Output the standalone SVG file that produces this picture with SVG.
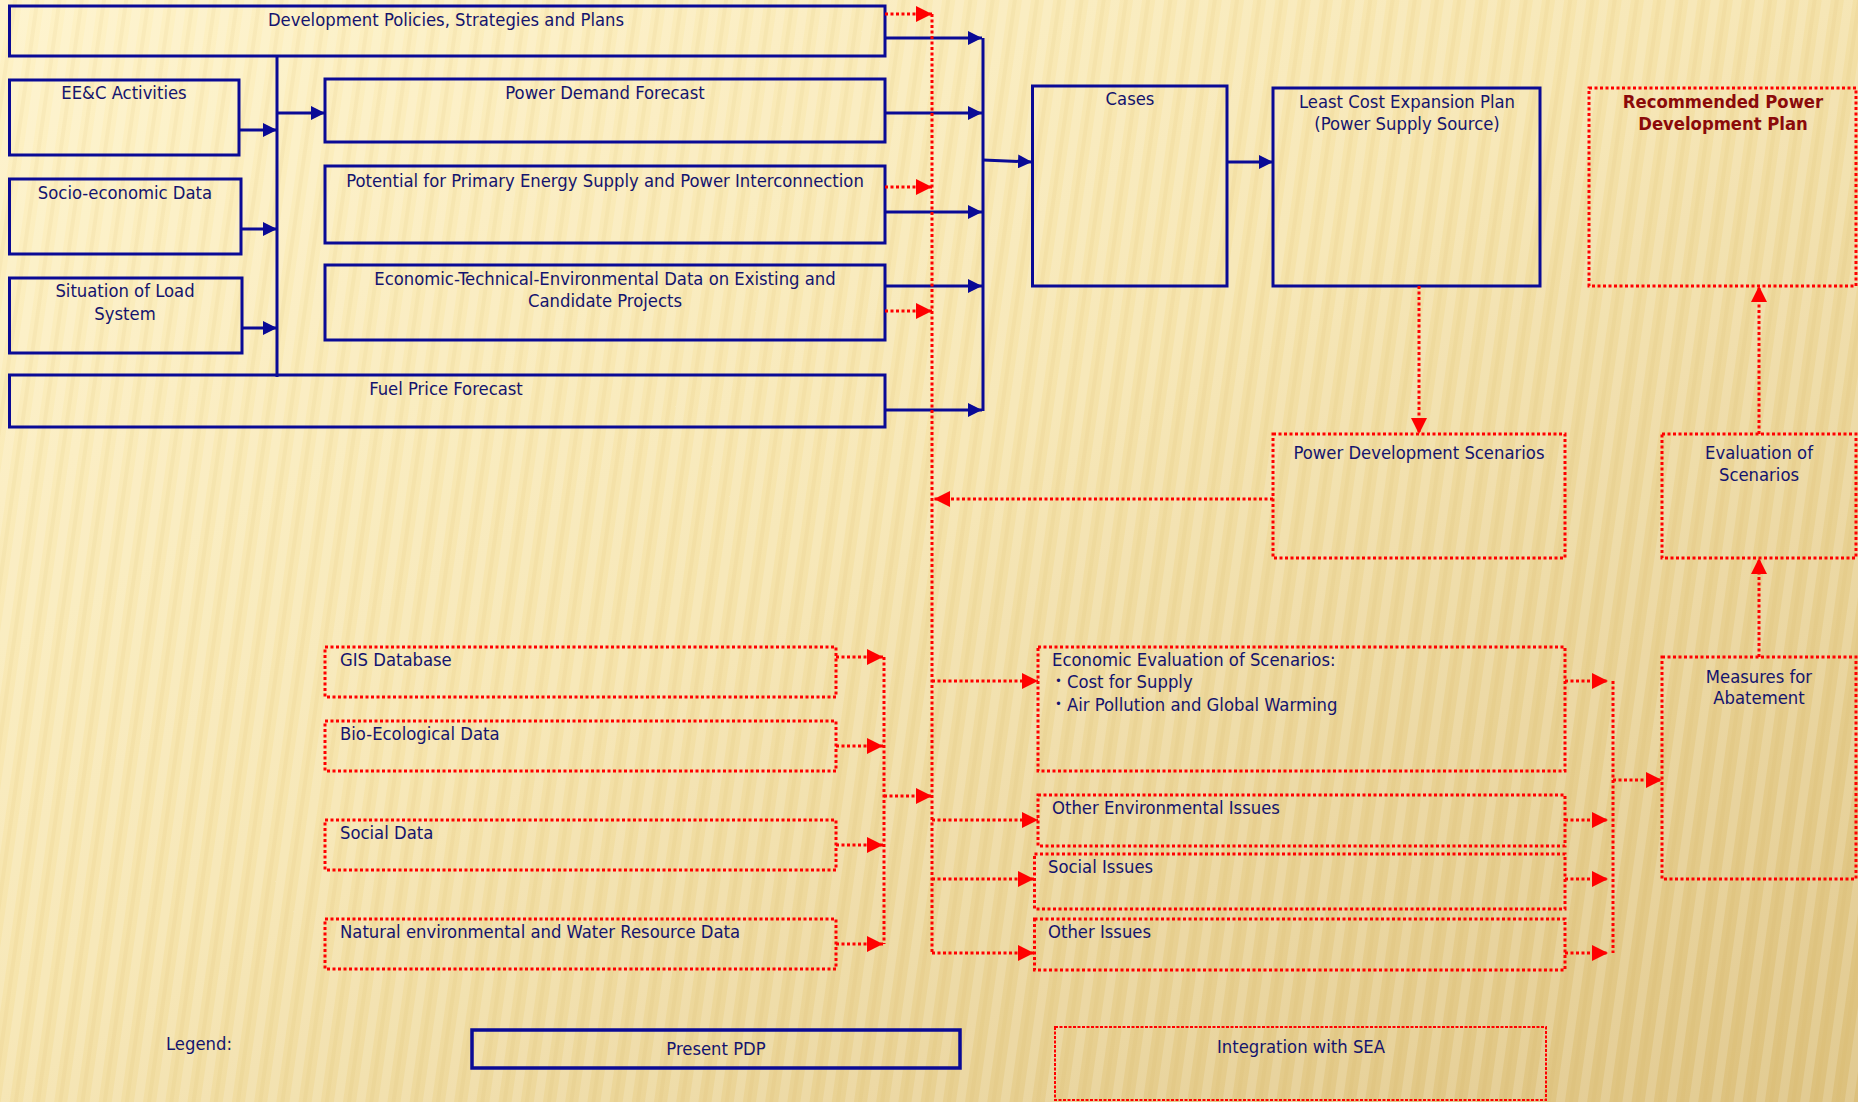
<svg xmlns="http://www.w3.org/2000/svg" width="1858" height="1102" viewBox="0 0 1858 1102">
<defs>
<linearGradient id="bg" x1="0" y1="0" x2="1" y2="1">
<stop offset="0" stop-color="#FEF2C6"/>
<stop offset="0.45" stop-color="#F6E4AC"/>
<stop offset="1" stop-color="#DCC07C"/>
</linearGradient>
<pattern id="stripes" width="22" height="22" patternUnits="userSpaceOnUse" patternTransform="rotate(8)">
<rect x="0" y="0" width="9" height="22" fill="#ffffff" opacity="0.16"/>
<rect x="13" y="0" width="4" height="22" fill="#c9a650" opacity="0.08"/>
</pattern>
<marker id="ab" viewBox="0 0 14 14" refX="14" refY="7" markerWidth="14" markerHeight="14" markerUnits="userSpaceOnUse" orient="auto">
<path d="M0,0 L14,7 L0,14 z" fill="#0A0A96"/>
</marker>
<marker id="ar" viewBox="0 0 16 16" refX="16" refY="8" markerWidth="16" markerHeight="16" markerUnits="userSpaceOnUse" orient="auto">
<path d="M0,0 L16,8 L0,16 z" fill="#FF0000"/>
</marker>
</defs>
<style>
.b{fill:none;stroke:#0A0A96;stroke-width:3}
.r{fill:none;stroke:#FF0000;stroke-width:3;stroke-dasharray:3 2.5}
.cb{fill:none;stroke:#0A0A96;stroke-width:3}
.cr{fill:none;stroke:#FF0000;stroke-width:3;stroke-dasharray:3 2.5}
text{font-family:"DejaVu Sans Condensed","DejaVu Sans",sans-serif;font-stretch:condensed;font-size:18.3px;fill:#14146E}
.m{text-anchor:middle}
.rec{fill:#8B0A0A;font-weight:bold}
.bul{font-size:13px}
</style>
<rect x="0" y="0" width="1858" height="1102" fill="url(#bg)"/>
<rect x="0" y="0" width="1858" height="1102" fill="url(#stripes)"/>

<g id="dev-policies"><rect class="b" x="9.5" y="6" width="875.5" height="50"/><text class="m" x="446" y="26">Development Policies, Strategies and Plans</text></g>
<g id="eec"><rect class="b" x="9.5" y="80" width="229.5" height="75"/><text class="m" x="124" y="99">EE&amp;C Activities</text></g>
<g id="socio"><rect class="b" x="9.5" y="179" width="231.5" height="75"/><text class="m" x="125" y="199">Socio-economic Data</text></g>
<g id="load"><rect class="b" x="9.5" y="278" width="232.5" height="75"/><text class="m" x="125" y="297">Situation of Load</text><text class="m" x="125" y="320">System</text></g>
<g id="demand"><rect class="b" x="325" y="79" width="560" height="63"/><text class="m" x="605" y="99">Power Demand Forecast</text></g>
<g id="potential"><rect class="b" x="325" y="166" width="560" height="77"/><text class="m" x="605" y="187">Potential for Primary Energy Supply and Power Interconnection</text></g>
<g id="econtech"><rect class="b" x="325" y="265" width="560" height="75"/><text class="m" x="605" y="285">Economic-Technical-Environmental Data on Existing and</text><text class="m" x="605" y="307">Candidate Projects</text></g>
<g id="fuel"><rect class="b" x="9.5" y="375" width="875.5" height="52"/><text class="m" x="446" y="395">Fuel Price Forecast</text></g>
<g id="cases"><rect class="b" x="1032.5" y="86" width="194.5" height="200"/><text class="m" x="1130" y="105">Cases</text></g>
<g id="lcep"><rect class="b" x="1273" y="88" width="267" height="198"/><text class="m" x="1407" y="108">Least Cost Expansion Plan</text><text class="m" x="1407" y="130">(Power Supply Source)</text></g>
<g id="recommended"><rect class="r" x="1589" y="88" width="267" height="198"/><text class="m rec" x="1723" y="108">Recommended Power</text><text class="m rec" x="1723" y="130">Development Plan</text></g>
<g id="pds"><rect class="r" x="1273" y="434" width="292" height="124"/><text class="m" x="1419" y="459">Power Development Scenarios</text></g>
<g id="evaluation"><rect class="r" x="1662" y="434" width="194" height="124"/><text class="m" x="1759" y="459">Evaluation of</text><text class="m" x="1759" y="481">Scenarios</text></g>
<g id="gis"><rect class="r" x="325" y="647" width="511" height="50"/><text x="340" y="666">GIS Database</text></g>
<g id="bio"><rect class="r" x="325" y="721" width="511" height="50"/><text x="340" y="740">Bio-Ecological Data</text></g>
<g id="social-data"><rect class="r" x="325" y="820" width="511" height="50"/><text x="340" y="839">Social Data</text></g>
<g id="natural"><rect class="r" x="325" y="919" width="511" height="50"/><text x="340" y="938">Natural environmental and Water Resource Data</text></g>
<g id="econ-eval"><rect class="r" x="1038" y="647" width="527" height="124"/><text x="1052" y="666">Economic Evaluation of Scenarios:</text><text class="bul" x="1055" y="685">•</text><text x="1067" y="688">Cost for Supply</text><text class="bul" x="1055" y="708">•</text><text x="1067" y="711">Air Pollution and Global Warming</text></g>
<g id="other-env"><rect class="r" x="1038" y="795" width="527" height="51"/><text x="1052" y="814">Other Environmental Issues</text></g>
<g id="social-issues"><rect class="r" x="1034.5" y="854" width="530.5" height="55"/><text x="1048" y="873">Social Issues</text></g>
<g id="other-issues"><rect class="r" x="1034.5" y="919" width="530.5" height="51"/><text x="1048" y="938">Other Issues</text></g>
<g id="measures"><rect class="r" x="1662" y="657" width="194" height="222"/><text class="m" x="1759" y="683">Measures for</text><text class="m" x="1759" y="704">Abatement</text></g>
<g id="legend"><text class="m" x="199" y="1050">Legend:</text>
<g id="legend-present"><rect x="472" y="1030" width="488" height="38" fill="none" stroke="#0A0A96" stroke-width="3.5"/><text class="m" x="716" y="1055">Present PDP</text></g>
<g id="legend-sea"><rect x="1055" y="1027" width="491" height="73" fill="none" stroke="#FF0000" stroke-width="2" stroke-dasharray="3 1.5"/><text class="m" x="1301" y="1053">Integration with SEA</text></g></g>

<g id="connectors">
<path class="cb" d="M277,56 V377"/>
<path class="cb" d="M239,130 H277" marker-end="url(#ab)"/>
<path class="cb" d="M241,229 H277" marker-end="url(#ab)"/>
<path class="cb" d="M242,328 H277" marker-end="url(#ab)"/>
<path class="cb" d="M277,113 H325" marker-end="url(#ab)"/>
<path class="cb" d="M885,38 H982" marker-end="url(#ab)"/>
<path class="cb" d="M885,113 H982" marker-end="url(#ab)"/>
<path class="cb" d="M885,212 H982" marker-end="url(#ab)"/>
<path class="cb" d="M885,286 H982" marker-end="url(#ab)"/>
<path class="cb" d="M885,410 H982" marker-end="url(#ab)"/>
<path class="cb" d="M983,38 V411"/>
<path class="cb" d="M983,160 L1032,162" marker-end="url(#ab)"/>
<path class="cb" d="M1227,162 H1273" marker-end="url(#ab)"/>
<path class="cr" d="M885,14 H932" marker-end="url(#ar)"/>
<path class="cr" d="M885,187 H932" marker-end="url(#ar)"/>
<path class="cr" d="M885,311 H932" marker-end="url(#ar)"/>
<path class="cr" d="M932,14 V953"/>
<path class="cr" d="M1419,286 V434" marker-end="url(#ar)"/>
<path class="cr" d="M1273,499 H934" marker-end="url(#ar)"/>
<path class="cr" d="M836,657 H883" marker-end="url(#ar)"/>
<path class="cr" d="M836,746 H883" marker-end="url(#ar)"/>
<path class="cr" d="M836,845 H883" marker-end="url(#ar)"/>
<path class="cr" d="M836,944 H883" marker-end="url(#ar)"/>
<path class="cr" d="M884,657 V944"/>
<path class="cr" d="M884,796 H932" marker-end="url(#ar)"/>
<path class="cr" d="M932,681 H1038" marker-end="url(#ar)"/>
<path class="cr" d="M932,820 H1038" marker-end="url(#ar)"/>
<path class="cr" d="M932,879 H1034" marker-end="url(#ar)"/>
<path class="cr" d="M932,953 H1034" marker-end="url(#ar)"/>
<path class="cr" d="M1565,681 H1608" marker-end="url(#ar)"/>
<path class="cr" d="M1565,820 H1608" marker-end="url(#ar)"/>
<path class="cr" d="M1565,879 H1608" marker-end="url(#ar)"/>
<path class="cr" d="M1565,953 H1608" marker-end="url(#ar)"/>
<path class="cr" d="M1613,681 V953"/>
<path class="cr" d="M1613,780 H1662" marker-end="url(#ar)"/>
<path class="cr" d="M1759,657 V558" marker-end="url(#ar)"/>
<path class="cr" d="M1759,434 V286" marker-end="url(#ar)"/>
</g>
</svg>
